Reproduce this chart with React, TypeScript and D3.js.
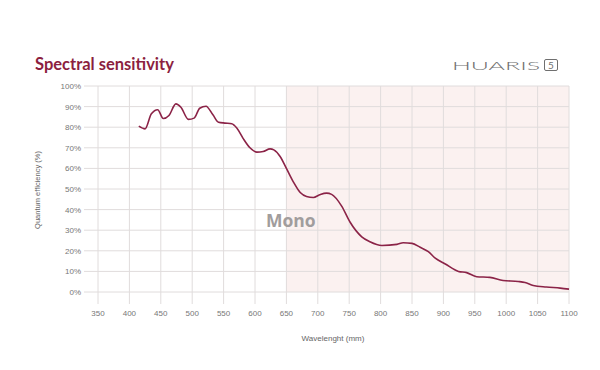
import React, { useEffect, useRef } from 'react'
import * as d3 from 'd3'

const wavelengths = [
  415, 425, 435, 445, 454, 463, 474, 482, 494, 503, 512, 522, 533, 542, 552,
  563, 571, 581, 592, 603, 613, 624, 630, 640, 650, 661, 672, 682, 693, 703,
  714, 722, 738, 751, 770, 783, 802, 826, 836, 850, 863, 876, 887, 903, 924,
  937, 953, 974, 995, 1019, 1030, 1043, 1064, 1086, 1100,
]
const efficiency = [
  80.5, 79.2, 86.5, 88.5, 84.2, 85.7, 91.3, 89.7, 83.8, 84.4, 89.2, 90.2, 86,
  82.4, 82, 81.7, 79.6, 74.6, 70, 67.9, 68.2, 69.5, 69, 65.8, 60, 53.5, 48.3,
  46.4, 45.9, 47.2, 48, 47.4, 41.7, 34.1, 26.8, 24.4, 22.6, 23.1, 23.9, 23.6,
  21.7, 19.6, 16.4, 13.6, 10, 9.4, 7.4, 7.1, 5.6, 5.1, 4.6, 3.2, 2.4, 1.9, 1.4,
]
const xTicks = d3.range(350, 1101, 50)
const yTicks = d3.range(0, 101, 10)
const monoRange = [650, 1100]

const width = 600
const height = 370
const margin = { left: 84, right: 31, top: 86, bottom: 78 }

const App: React.FC = () => {
  const svgRef = useRef<SVGSVGElement | null>(null)

  useEffect(() => {
    if (!svgRef.current) return
    const svg = d3.select(svgRef.current)
    svg.selectAll('*').remove()

    const x = d3.scaleLinear().domain([350, 1100]).range([98, width - margin.right])
    const y = d3
      .scaleLinear()
      .domain([0, 100])
      .range([height - margin.bottom, margin.top])

    // Mono zone
    svg
      .append('rect')
      .attr('x', x(monoRange[0]))
      .attr('y', y(100))
      .attr('width', x(monoRange[1]) - x(monoRange[0]))
      .attr('height', y(0) - y(100))
      .attr('fill', '#fbf1f0')

    // horizontal grid
    svg
      .append('g')
      .selectAll('line')
      .data(yTicks)
      .join('line')
      .attr('x1', margin.left)
      .attr('x2', width - margin.right)
      .attr('y1', (d) => y(d))
      .attr('y2', (d) => y(d))
      .attr('stroke', '#e0dcdc')
      .attr('stroke-width', 1)

    // vertical grid
    svg
      .append('g')
      .selectAll('line')
      .data(xTicks)
      .join('line')
      .attr('x1', (d) => x(d))
      .attr('x2', (d) => x(d))
      .attr('y1', y(100))
      .attr('y2', y(0) + 12)
      .attr('stroke', '#e0dcdc')
      .attr('stroke-width', 1)

    svg
      .append('g')
      .selectAll('text')
      .data(yTicks)
      .join('text')
      .attr('x', 81)
      .attr('y', (d) => y(d) + 3)
      .attr('text-anchor', 'end')
      .attr('font-family', 'Liberation Sans, Arial, sans-serif')
      .attr('font-size', 8)
      .attr('fill', '#777')
      .text((d) => d + '%')

    svg
      .append('g')
      .selectAll('text')
      .data(xTicks)
      .join('text')
      .attr('x', (d) => x(d))
      .attr('y', 316)
      .attr('text-anchor', 'middle')
      .attr('font-family', 'Liberation Sans, Arial, sans-serif')
      .attr('font-size', 8)
      .attr('fill', '#777')
      .text((d) => d)

    svg
      .append('text')
      .attr('x', 333)
      .attr('y', 341)
      .attr('text-anchor', 'middle')
      .attr('font-family', 'Liberation Sans, Arial, sans-serif')
      .attr('font-size', 8)
      .attr('fill', '#666')
      .text('Wavelenght (mm)')

    svg
      .append('text')
      .attr('transform', 'translate(40,190) rotate(-90)')
      .attr('text-anchor', 'middle')
      .attr('font-family', 'Liberation Sans, Arial, sans-serif')
      .attr('font-size', 7.5)
      .attr('fill', '#666')
      .text('Quantum efficiency (%)')

    svg
      .append('text')
      .attr('x', 266)
      .attr('y', 227)
      .attr('font-family', 'Open Sans, sans-serif')
      .attr('font-weight', 700)
      .attr('font-size', 17.5)
      .attr('fill', '#a19d9d')
      .text('Mono')

    const line = d3
      .line<number>()
      .x((_, i) => x(wavelengths[i]))
      .y((d) => y(d))
      .curve(d3.curveMonotoneX)

    svg
      .append('path')
      .datum(efficiency)
      .attr('d', line)
      .attr('fill', 'none')
      .attr('stroke', '#8b2347')
      .attr('stroke-width', 1.6)

    // title
    svg
      .append('text')
      .attr('x', 35)
      .attr('y', 70)
      .attr('font-family', 'Lato, sans-serif')
      .attr('font-weight', 700)
      .attr('font-size', 16.5)
      .attr('fill', '#8c1f40')
      .text('Spectral sensitivity')

    // logo
    svg
      .append('text')
      .attr('x', 452)
      .attr('y', 69.5)
      .attr('font-family', 'Lato, sans-serif')
      .attr('font-weight', 300)
      .attr('font-size', 12.5)
      .attr('textLength', 88)
      .attr('lengthAdjust', 'spacingAndGlyphs')
      .attr('fill', '#6f6f6f')
      .text('HUARIS')
    svg
      .append('rect')
      .attr('x', 544.5)
      .attr('y', 59.5)
      .attr('width', 13)
      .attr('height', 11)
      .attr('rx', 1.5)
      .attr('fill', 'none')
      .attr('stroke', '#6f6f6f')
      .attr('stroke-width', 1)
    svg
      .append('text')
      .attr('x', 551)
      .attr('y', 68.5)
      .attr('text-anchor', 'middle')
      .attr('font-family', 'Lato, sans-serif')
      .attr('font-weight', 400)
      .attr('font-size', 10)
      .attr('fill', '#6f6f6f')
      .text('5')
  }, [])

  return (
    <svg
      ref={svgRef}
      width={width}
      height={height}
      style={{ position: 'absolute', left: 0, top: 0, background: '#fff' }}
    ></svg>
  )
}

export default App
